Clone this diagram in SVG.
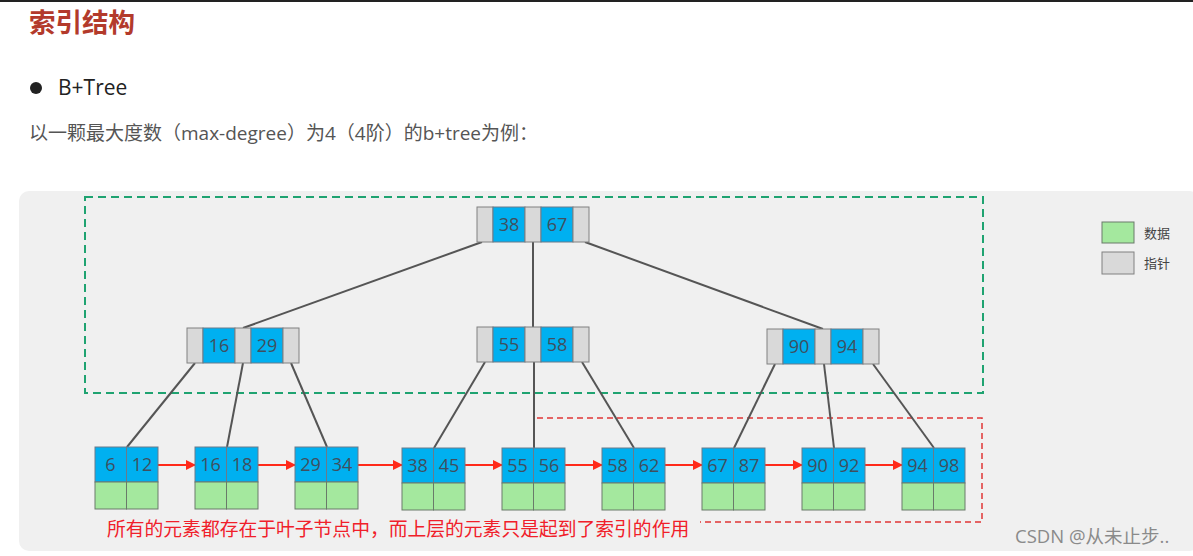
<svg xmlns="http://www.w3.org/2000/svg" width="1193" height="556" viewBox="0 0 1193 556">
<defs>
<style>
.bg{fill:#ffffff}
.panel{fill:#f0f0f0}
.g{fill:#d9d9d9;stroke:#808080;stroke-width:1}
.b{fill:#00b0f0;stroke:#6a7a8a;stroke-width:1}
.d{fill:#a4e89e;stroke:#6a7a6a;stroke-width:1}
.num{font-family:"Open Sans","Noto Sans",sans-serif;font-size:18px;fill:#3f4f5f;text-anchor:middle}
.edge{stroke:#555555;stroke-width:2;fill:none}
.link{stroke:#ff2a1a;stroke-width:2;fill:none;marker-end:url(#ah)}
</style>
<marker id="ah" viewBox="0 0 10 10" refX="9" refY="5" markerWidth="5" markerHeight="5" orient="auto" markerUnits="strokeWidth">
<path d="M0,0 L10,5 L0,10 z" fill="#ff2a1a"/>
</marker>
</defs>
<rect class="bg" x="0" y="0" width="1193" height="556"/>
<rect x="0" y="0" width="1193" height="2" fill="#222"/>
<text x="29" y="32" font-family="'Noto Sans CJK SC',sans-serif" font-size="26.5" font-weight="bold" fill="#b33a2b">索引结构</text>
<circle cx="36" cy="88" r="6" fill="#222"/>
<text x="58" y="95" font-family="'Open Sans','Noto Sans',sans-serif" font-size="21" fill="#222">B+Tree</text>
<text x="29" y="140" font-family="'Open Sans','Noto Sans CJK SC',sans-serif" font-size="19" fill="#555">以一颗最大度数（max-degree）为4（4阶）的b+tree为例：</text>
<rect class="panel" x="19" y="191" width="1180" height="360" rx="10"/>
<rect x="85" y="197" width="898" height="196" fill="none" stroke="#1fa371" stroke-width="2" stroke-dasharray="8,5"/>
<path d="M537,418 H982 V522 H700" fill="none" stroke="#e03535" stroke-width="1.5" stroke-dasharray="6,4"/>
<g id="connectors">
<line class="edge" x1="482" y1="242" x2="243" y2="328"/>
<line class="edge" x1="533" y1="242" x2="533" y2="327"/>
<line class="edge" x1="585" y1="242" x2="823" y2="329"/>
<line class="edge" x1="195" y1="363" x2="127" y2="447"/>
<line class="edge" x1="243" y1="363" x2="227" y2="447"/>
<line class="edge" x1="291" y1="363" x2="327" y2="447"/>
<line class="edge" x1="485" y1="362" x2="434" y2="448"/>
<line class="edge" x1="534" y1="362" x2="534" y2="448"/>
<line class="edge" x1="582" y1="362" x2="634" y2="448"/>
<line class="edge" x1="775" y1="364" x2="734" y2="448"/>
<line class="edge" x1="824" y1="364" x2="834" y2="448"/>
<line class="edge" x1="873" y1="364" x2="934" y2="448"/>
<line class="link" x1="158" y1="465" x2="195" y2="465"/>
<line class="link" x1="258" y1="465" x2="295" y2="465"/>
<line class="link" x1="358" y1="465" x2="402" y2="465"/>
<line class="link" x1="465" y1="465" x2="502" y2="465"/>
<line class="link" x1="565" y1="465" x2="602" y2="465"/>
<line class="link" x1="665" y1="465" x2="702" y2="465"/>
<line class="link" x1="765" y1="465" x2="802" y2="465"/>
<line class="link" x1="865" y1="465" x2="902" y2="465"/>
</g>
<g id="root" transform="translate(477,207)">
<rect class="g" x="0" y="0" width="16" height="35"/><rect class="b" x="16" y="0" width="32" height="35"/><rect class="g" x="48" y="0" width="16" height="35"/><rect class="b" x="64" y="0" width="32" height="35"/><rect class="g" x="96" y="0" width="16" height="35"/>
<text class="num" x="32" y="24">38</text><text class="num" x="80" y="24">67</text>
</g>
<g id="mid1" transform="translate(187,328)">
<rect class="g" x="0" y="0" width="16" height="35"/><rect class="b" x="16" y="0" width="32" height="35"/><rect class="g" x="48" y="0" width="16" height="35"/><rect class="b" x="64" y="0" width="32" height="35"/><rect class="g" x="96" y="0" width="16" height="35"/>
<text class="num" x="32" y="24">16</text><text class="num" x="80" y="24">29</text>
</g>
<g id="mid2" transform="translate(477,327)">
<rect class="g" x="0" y="0" width="16" height="35"/><rect class="b" x="16" y="0" width="32" height="35"/><rect class="g" x="48" y="0" width="16" height="35"/><rect class="b" x="64" y="0" width="32" height="35"/><rect class="g" x="96" y="0" width="16" height="35"/>
<text class="num" x="32" y="24">55</text><text class="num" x="80" y="24">58</text>
</g>
<g id="mid3" transform="translate(767,329)">
<rect class="g" x="0" y="0" width="16" height="35"/><rect class="b" x="16" y="0" width="32" height="35"/><rect class="g" x="48" y="0" width="16" height="35"/><rect class="b" x="64" y="0" width="32" height="35"/><rect class="g" x="96" y="0" width="16" height="35"/>
<text class="num" x="32" y="24">90</text><text class="num" x="80" y="24">94</text>
</g>
<g id="leaf1" transform="translate(95,447)">
<rect class="b" x="0" y="0" width="31.5" height="35"/><rect class="b" x="31.5" y="0" width="31.5" height="35"/><rect class="d" x="0" y="35" width="31.5" height="27"/><rect class="d" x="31.5" y="35" width="31.5" height="27"/>
<text class="num" x="15.5" y="24">6</text><text class="num" x="47" y="24">12</text>
</g>
<g id="leaf2" transform="translate(195,447)">
<rect class="b" x="0" y="0" width="31.5" height="35"/><rect class="b" x="31.5" y="0" width="31.5" height="35"/><rect class="d" x="0" y="35" width="31.5" height="27"/><rect class="d" x="31.5" y="35" width="31.5" height="27"/>
<text class="num" x="15.5" y="24">16</text><text class="num" x="47" y="24">18</text>
</g>
<g id="leaf3" transform="translate(295,447)">
<rect class="b" x="0" y="0" width="31.5" height="35"/><rect class="b" x="31.5" y="0" width="31.5" height="35"/><rect class="d" x="0" y="35" width="31.5" height="27"/><rect class="d" x="31.5" y="35" width="31.5" height="27"/>
<text class="num" x="15.5" y="24">29</text><text class="num" x="47" y="24">34</text>
</g>
<g id="leaf4" transform="translate(402,448)">
<rect class="b" x="0" y="0" width="31.5" height="35"/><rect class="b" x="31.5" y="0" width="31.5" height="35"/><rect class="d" x="0" y="35" width="31.5" height="27"/><rect class="d" x="31.5" y="35" width="31.5" height="27"/>
<text class="num" x="15.5" y="24">38</text><text class="num" x="47" y="24">45</text>
</g>
<g id="leaf5" transform="translate(502,448)">
<rect class="b" x="0" y="0" width="31.5" height="35"/><rect class="b" x="31.5" y="0" width="31.5" height="35"/><rect class="d" x="0" y="35" width="31.5" height="27"/><rect class="d" x="31.5" y="35" width="31.5" height="27"/>
<text class="num" x="15.5" y="24">55</text><text class="num" x="47" y="24">56</text>
</g>
<g id="leaf6" transform="translate(602,448)">
<rect class="b" x="0" y="0" width="31.5" height="35"/><rect class="b" x="31.5" y="0" width="31.5" height="35"/><rect class="d" x="0" y="35" width="31.5" height="27"/><rect class="d" x="31.5" y="35" width="31.5" height="27"/>
<text class="num" x="15.5" y="24">58</text><text class="num" x="47" y="24">62</text>
</g>
<g id="leaf7" transform="translate(702,448)">
<rect class="b" x="0" y="0" width="31.5" height="35"/><rect class="b" x="31.5" y="0" width="31.5" height="35"/><rect class="d" x="0" y="35" width="31.5" height="27"/><rect class="d" x="31.5" y="35" width="31.5" height="27"/>
<text class="num" x="15.5" y="24">67</text><text class="num" x="47" y="24">87</text>
</g>
<g id="leaf8" transform="translate(802,448)">
<rect class="b" x="0" y="0" width="31.5" height="35"/><rect class="b" x="31.5" y="0" width="31.5" height="35"/><rect class="d" x="0" y="35" width="31.5" height="27"/><rect class="d" x="31.5" y="35" width="31.5" height="27"/>
<text class="num" x="15.5" y="24">90</text><text class="num" x="47" y="24">92</text>
</g>
<g id="leaf9" transform="translate(902,448)">
<rect class="b" x="0" y="0" width="31.5" height="35"/><rect class="b" x="31.5" y="0" width="31.5" height="35"/><rect class="d" x="0" y="35" width="31.5" height="27"/><rect class="d" x="31.5" y="35" width="31.5" height="27"/>
<text class="num" x="15.5" y="24">94</text><text class="num" x="47" y="24">98</text>
</g>
<g id="legend">
<rect class="d" x="1102" y="222" width="32" height="21"/>
<rect class="g" x="1102" y="252" width="32" height="22"/>
<text x="1144" y="238" font-family="'Noto Sans CJK SC',sans-serif" font-size="13" fill="#444">数据</text>
<text x="1144" y="268" font-family="'Noto Sans CJK SC',sans-serif" font-size="13" fill="#444">指针</text>
</g>
<text x="107" y="536" font-family="'Noto Sans CJK SC',sans-serif" font-size="18.8" fill="#f0202a">所有的元素都存在于叶子节点中，而上层的元素只是起到了索引的作用</text>
<text x="1015" y="543" font-family="'Open Sans','Noto Sans CJK SC',sans-serif" font-size="18.5" fill="#8a8a8a">CSDN @从未止步..</text>
</svg>
